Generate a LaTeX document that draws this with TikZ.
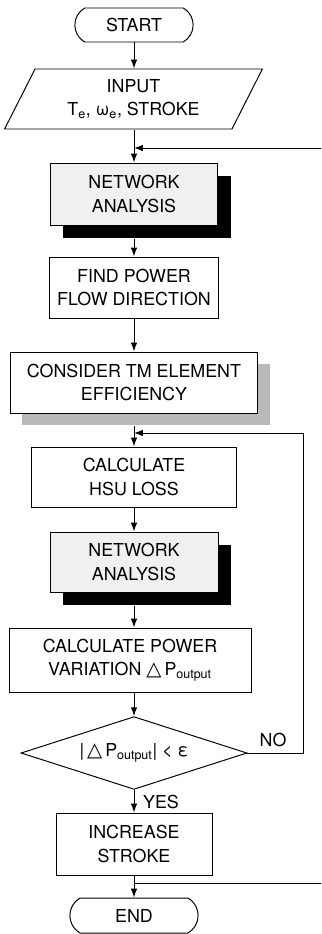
\documentclass[tikz,border=0pt]{standalone}
\usepackage{fontspec}
\setmainfont{TeX Gyre Heros}
\newfontfamily\symfont{DejaVu Sans}
\usetikzlibrary{shapes.geometric,shapes.misc,shadows,arrows.meta}

\tikzset{%
  every node/.style={
    inner sep=1pt,
    align=center,
    font=\fontsize{12.7}{16.4}\selectfont
  },
  box/.style={draw, fill=white, line width=0.7pt, minimum height=15.25mm},
  term/.style={box, shape=rounded rectangle, rounded rectangle arc length=120,
    minimum height=8.5mm},
  netbox/.style={box, fill=gray!12, minimum width=42mm, minimum height=15.25mm,
    general shadow={shadow xshift=3.25mm, shadow yshift=-3.25mm, fill=black}},
  flow/.style={line width=0.7pt, -{Latex[length=2.2mm,width=1.6mm]}},
  plain/.style={line width=0.7pt}
}
\newcommand{\tri}{{\symfont\fontsize{14}{14}\selectfont △}}

\begin{document}
\begin{tikzpicture}[x=0.25mm, y=-0.25mm]
        \useasboundingbox (0,0) rectangle (321,934);
        \clip (0,0) rectangle (321,934);
        \node[term, minimum width=30.25mm] at (134,25) (start) {START};
        \node[box, shape=trapezium, trapezium left angle=63.4, trapezium right angle=116.6,
          trapezium stretches=true, minimum width=64.5mm, minimum height=15mm]
          at (133.5,99) (in) {INPUT\\T\textsubscript{e}, ω\textsubscript{e}, STROKE};
        \node[netbox, minimum width=41.75mm, minimum height=15.5mm] at (134,194) (net1) {NETWORK\\ANALYSIS};
        \node[box, minimum width=42.25mm] at (134,287.5) (find) {FIND POWER\\FLOW DIRECTION};
        \node[box, minimum width=61.75mm,
          general shadow={shadow xshift=3mm, shadow yshift=-3mm, fill=gray!55}]
          at (134,382.5) (tm) {CONSIDER TM ELEMENT\\EFFICIENCY};
        \node[box, minimum width=51.25mm, minimum height=15mm] at (134,477) (hsu) {CALCULATE\\HSU LOSS};
        \node[netbox, minimum height=15mm] at (134,562) (net2) {NETWORK\\ANALYSIS};
        \node[box, minimum width=60.5mm, minimum height=16mm] at (130,660) (dp)
          {CALCULATE POWER\\VARIATION \tri\,P\textsubscript{output}};
        \node[draw, fill=white, line width=0.7pt, shape=diamond, aspect=2, inner sep=0pt,
          minimum width=56.5mm, minimum height=18mm] at (134,753) (test)
          {|\,\tri\,P\textsubscript{output}| < ε};
        \node at (273,740) (no) {NO};
        \node at (161,802) (yes) {YES};
        \node[box, minimum width=39mm, minimum height=15.5mm] at (134,844) (inc) {INCREASE\\STROKE};
        \node[term, minimum width=32.75mm, minimum height=8.75mm] at (134,915.5) (stop) {END};
        \coordinate (j1) at (134,148);
        \coordinate (j2) at (134,883);
        \coordinate (j3) at (134,433);
        \coordinate (far) at (330,883);
        \coordinate (back) at (303,753);
        \draw[flow] (start.south) -- (start.south |- in.north);
        \draw[flow] (start.south |- in.south) -- (net1.north);
        \draw[flow] ([yshift=-3.25mm]net1.south) -- (find.north);
        \draw[flow] (find.south) -- (tm.north);
        \draw[flow] ([yshift=-3mm]tm.south) -- (hsu.north);
        \draw[flow] (hsu.south) -- (net2.north);
        \draw[flow] ([yshift=-3.25mm]net2.south) -- (net2.south |- dp.north);
        \draw[flow] (net2.south |- dp.south) -- (test.north);
        \draw[flow] (test.south) -- (inc.north);
        \draw[flow] (inc.south) -- (stop.north);
        \draw[flow] (test.east) -- (back) |- (j3);
        \draw[flow] (j2) -- (far) |- (j1);
      \end{tikzpicture}
\end{document}
